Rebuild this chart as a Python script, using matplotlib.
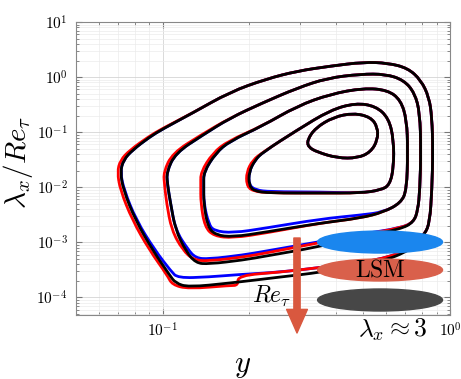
import numpy as np
import matplotlib
matplotlib.use('Agg')
import matplotlib.pyplot as plt
from matplotlib.path import Path
from matplotlib.patches import PathPatch, Ellipse
from matplotlib.ticker import FixedLocator, LogLocator, NullFormatter

plt.rcParams['mathtext.fontset'] = 'cm'
plt.rcParams['font.family'] = 'serif'
plt.rcParams['font.serif'] = ['DejaVu Serif']

# spectra iso-lines (y, lambda_x/Re_tau), one closed loop per level
# black: highest Re_tau, red / blue: lower Re_tau
C1_Y = [0.0713, 0.0731, 0.0786, 0.0901, 0.100, 0.127, 0.1715, 0.229, 0.294, 0.384, 0.500, 0.607, 0.713, 0.792, 0.845,
        0.865, 0.872, 0.865, 0.850, 0.818, 0.731, 0.574, 0.354, 0.257, 0.1715, 0.123, 0.111, 0.1058, 0.0923, 0.0805, 0.0731]
C1_L = [0.0189, 0.0312, 0.0473, 0.0815, 0.114, 0.222, 0.534, 0.920, 1.285, 1.583, 1.87, 1.80, 1.457, 0.882, 0.434,
        0.188, 0.0473, 0.0089, 0.00234, 0.00141, 0.000725, 0.000439, 0.000285, 0.000235, 0.000182, 0.000154, 0.000182,
        0.000255, 0.000725, 0.00254, 0.0089]
R1_Y = [0.0696, 0.0713, 0.077, 0.089, 0.099, 0.127, 0.1715, 0.229, 0.294, 0.384, 0.500, 0.607, 0.713, 0.792, 0.845,
        0.865, 0.872, 0.865, 0.850, 0.818, 0.731, 0.574, 0.354, 0.257, 0.183, 0.183, 0.1715, 0.123, 0.108, 0.104, 0.090,
        0.0785, 0.0713]
R1_L = [0.0189, 0.031, 0.0473, 0.0815, 0.114, 0.222, 0.534, 0.920, 1.285, 1.583, 1.87, 1.80, 1.457, 0.882, 0.434,
        0.188, 0.0473, 0.0089, 0.00234, 0.00141, 0.00078, 0.00048, 0.00035, 0.000288, 0.00025, 0.000165, 0.000165,
        0.000143, 0.00017, 0.00025, 0.000725, 0.00254, 0.0089]
B1_Y = [0.0713, 0.0731, 0.0786, 0.0901, 0.100, 0.127, 0.1715, 0.229, 0.294, 0.384, 0.500, 0.607, 0.713, 0.792, 0.845,
        0.865, 0.872, 0.865, 0.850, 0.818, 0.731, 0.574, 0.354, 0.257, 0.183, 0.1448, 0.113, 0.107, 0.094, 0.081, 0.0735]
B1_L = [0.0189, 0.0312, 0.0473, 0.0815, 0.114, 0.222, 0.534, 0.920, 1.285, 1.583, 1.87, 1.80, 1.457, 0.882, 0.434,
        0.188, 0.0473, 0.0089, 0.00234, 0.00141, 0.00078, 0.00048, 0.00035, 0.000288, 0.00026, 0.000235, 0.000225,
        0.0003, 0.000725, 0.00254, 0.0089]

C2_Y = [0.1033, 0.111, 0.138, 0.1715, 0.222, 0.294, 0.3745, 0.4885, 0.597, 0.6905, 0.754, 0.7855, 0.792, 0.7855,
        0.773, 0.748, 0.674, 0.4885, 0.3455, 0.229, 0.1904, 0.1448, 0.1304, 0.1204, 0.111, 0.1066, 0.1041]
C2_L = [0.0189, 0.0418, 0.0886, 0.18, 0.337, 0.632, 0.959, 1.133, 1.133, 0.882, 0.5125, 0.222, 0.0473, 0.0089,
        0.00386, 0.00234, 0.00174, 0.00125, 0.000822, 0.000564, 0.000477, 0.000404, 0.000421, 0.000705, 0.00167,
        0.00517, 0.011]
R2_Y = [0.1008, 0.1084, 0.1358, 0.1715, 0.222, 0.294, 0.3745, 0.4885, 0.597, 0.6905, 0.754, 0.7855, 0.792, 0.7855,
        0.773, 0.748, 0.674, 0.4885, 0.3455, 0.229, 0.1904, 0.1448, 0.1284, 0.1175, 0.1075, 0.1033, 0.1016]
R2_L = [0.0189, 0.0418, 0.0886, 0.18, 0.337, 0.632, 0.959, 1.133, 1.133, 0.882, 0.5125, 0.222, 0.0473, 0.0089,
        0.00386, 0.00234, 0.00182, 0.00136, 0.000971, 0.00064, 0.000541, 0.000458, 0.000477, 0.000725, 0.00167,
        0.00517, 0.011]
B2_Y = [0.1033, 0.111, 0.138, 0.1715, 0.222, 0.294, 0.3745, 0.4885, 0.597, 0.6905, 0.754, 0.7855, 0.792, 0.7855,
        0.773, 0.748, 0.674, 0.4885, 0.3455, 0.229, 0.1904, 0.1448, 0.1304, 0.1223, 0.111, 0.1066, 0.1041]
B2_L = [0.0189, 0.0418, 0.0886, 0.18, 0.337, 0.632, 0.959, 1.133, 1.133, 0.882, 0.5125, 0.222, 0.0473, 0.0089,
        0.00386, 0.00234, 0.00182, 0.00141, 0.00101, 0.000695, 0.000589, 0.000498, 0.000519, 0.000756, 0.00167,
        0.00517, 0.011]

C3_Y = [0.1391, 0.1532, 0.1715, 0.222, 0.294, 0.3836, 0.5004, 0.607, 0.674, 0.707, 0.7131, 0.707, 0.674, 0.5877,
        0.4885, 0.354, 0.229, 0.1757, 0.1532, 0.1436, 0.1391, 0.1391]
C3_L = [0.0189, 0.0418, 0.0689, 0.129, 0.2977, 0.491, 0.632, 0.581, 0.3825, 0.1658, 0.0473, 0.0089, 0.0052, 0.00355,
        0.00276, 0.00224, 0.00154, 0.00125, 0.00136, 0.0019, 0.00517, 0.011]
R3_Y = [0.1358, 0.1496, 0.1688, 0.222, 0.294, 0.3836, 0.5004, 0.607, 0.674, 0.707, 0.7131, 0.707, 0.674, 0.5877,
        0.4885, 0.354, 0.229, 0.1757, 0.151, 0.1403, 0.1358, 0.1358]
R3_L = [0.0189, 0.0418, 0.0689, 0.129, 0.2977, 0.491, 0.632, 0.581, 0.3825, 0.1658, 0.0473, 0.0089, 0.0052, 0.00355,
        0.00276, 0.00224, 0.00148, 0.0012, 0.0013, 0.0019, 0.00517, 0.011]
B3_Y = [0.1391, 0.1532, 0.1715, 0.222, 0.294, 0.3836, 0.5004, 0.607, 0.674, 0.707, 0.7131, 0.707, 0.674, 0.5877,
        0.4885, 0.354, 0.229, 0.1757, 0.151, 0.1448, 0.1391, 0.1391]
B3_L = [0.0189, 0.0418, 0.0689, 0.129, 0.2977, 0.491, 0.632, 0.581, 0.3825, 0.1658, 0.0473, 0.0089, 0.0052, 0.00355,
        0.00313, 0.00265, 0.00182, 0.00148, 0.00162, 0.00215, 0.00517, 0.011]

C4_Y = [0.1998, 0.1998, 0.2097, 0.2237, 0.294, 0.3836, 0.469, 0.551, 0.612, 0.637, 0.637, 0.617, 0.5738, 0.4885,
        0.354, 0.2367, 0.208]
C4_L = [0.011, 0.0189, 0.0312, 0.0435, 0.1092, 0.252, 0.3374, 0.2977, 0.1803, 0.0719, 0.0233, 0.011, 0.0089, 0.00785,
        0.00785, 0.00785, 0.00853]
R4_Y = [0.196, 0.196, 0.206, 0.2237, 0.294, 0.3836, 0.469, 0.551, 0.612, 0.637, 0.637, 0.617, 0.5738, 0.4885,
        0.354, 0.2367, 0.205]
R4_L = C4_L
B4_Y = [0.1998, 0.1998, 0.2097, 0.2237, 0.294, 0.3836, 0.469, 0.551, 0.612, 0.637, 0.637, 0.617, 0.5738, 0.4885,
        0.354, 0.2367, 0.211]
B4_L = [0.011, 0.0189, 0.0312, 0.0435, 0.1092, 0.252, 0.3374, 0.2977, 0.1803, 0.0719, 0.0233, 0.011, 0.0089, 0.00785,
        0.0082, 0.0083, 0.0089]

C5_Y = [0.3188, 0.340, 0.393, 0.4617, 0.5294, 0.5601, 0.5601, 0.5294, 0.4769, 0.4058, 0.3455, 0.3214]
C5_L = [0.0719, 0.1187, 0.1879, 0.2221, 0.1879, 0.1238, 0.0719, 0.0435, 0.0339, 0.0339, 0.0435, 0.0537]

RED_LINES = [(R1_Y, R1_L), (R2_Y, R2_L), (R3_Y, R3_L), (R4_Y, R4_L), (C5_Y, C5_L)]
BLUE_LINES = [(B1_Y, B1_L), (B2_Y, B2_L), (B3_Y, B3_L), (B4_Y, B4_L), (C5_Y, C5_L)]
BLACK_LINES = [(C1_Y, C1_L), (C2_Y, C2_L), (C3_Y, C3_L), (C4_Y, C4_L), (C5_Y, C5_L)]

XTICKS = [0.1, 1.0]
XTICKLABELS = [r'$10^{-1}$', r'$10^{0}$']
YTICKS = [1e-4, 1e-3, 1e-2, 1e-1, 1e0, 1e1]
YTICKLABELS = [r'$10^{-4}$', r'$10^{-3}$', r'$10^{-2}$', r'$10^{-1}$', r'$10^{0}$', r'$10^{1}$']

ARROW_C = '#d9583f'
BLOB_COLORS = ['#1a86ee', '#d9604b', '#474747']


def loop_path(xs, ys):
    # closed quadratic bezier through the midpoints; geometric means keep it smooth on log axes
    pts = np.column_stack([xs, ys]).astype(float)
    mids = np.sqrt(pts * np.roll(pts, -1, axis=0))
    verts = [mids[-1]]
    codes = [Path.MOVETO]
    for i in range(len(pts)):
        verts += [pts[i], mids[i]]
        codes += [Path.CURVE3, Path.CURVE3]
    return Path(verts, codes)


fig = plt.figure(figsize=(4.61, 3.79), dpi=100)
ax = fig.add_axes([76 / 461, 1 - 315 / 379, 374 / 461, 293 / 379])
ax.set_xscale('log')
ax.set_yscale('log')
ax.set_xlim(0.05, 1.0)
ax.set_ylim(4.8e-5, 10)

for lines, col, z in [(BLUE_LINES, '#0000ff', 2), (RED_LINES, '#ff0000', 3), (BLACK_LINES, 'k', 4)]:
    for xs, ys in lines:
        ax.add_patch(PathPatch(loop_path(xs, ys), fill=False, edgecolor=col, lw=2.0, zorder=z))

ax.xaxis.set_major_locator(FixedLocator(XTICKS))
ax.set_xticklabels(XTICKLABELS)
ax.yaxis.set_major_locator(FixedLocator(YTICKS))
ax.set_yticklabels(YTICKLABELS)
for a in (ax.xaxis, ax.yaxis):
    a.set_minor_locator(LogLocator(base=10, subs=np.arange(2, 10), numticks=20))
    a.set_minor_formatter(NullFormatter())

ax.grid(True, which='major', color='#d4d4d4', lw=0.6)
ax.grid(True, which='minor', color='#ebebeb', lw=0.5)
ax.set_axisbelow(True)
ax.tick_params(which='both', direction='in', top=True, right=True, color='#777777', labelsize=11)
ax.tick_params(which='major', length=4)
ax.tick_params(which='minor', length=2)
ax.tick_params(axis='x', pad=5)
ax.tick_params(axis='y', pad=6)
for s in ax.spines.values():
    s.set_color('#888888')
    s.set_linewidth(0.8)

# structure markers
for cy, col in zip([0.249, 0.1536, 0.0512], BLOB_COLORS):
    ax.add_patch(Ellipse((0.813, cy), 0.334, 0.075, transform=ax.transAxes, color=col, zorder=6, clip_on=False))
ax.text(0.813, 0.1536, r'$\mathrm{LSM}$', transform=ax.transAxes, ha='center', va='center', fontsize=17, zorder=7)

ax.annotate('', xy=(297 / 461, 1 - 333 / 379), xytext=(297 / 461, 1 - 238 / 379),
            xycoords='figure fraction', textcoords='figure fraction',
            arrowprops=dict(arrowstyle='simple,head_length=1.7,head_width=1.5,tail_width=0.45',
                            color=ARROW_C, shrinkA=0, shrinkB=0, mutation_scale=10), zorder=8)

fig.text(272 / 461, 1 - 296 / 379, r'$Re_\tau$', ha='center', va='center', fontsize=17)
fig.text(393 / 461, 1 - 330 / 379, r'$\lambda_x \approx 3$', ha='center', va='center', fontsize=18.5)
fig.text(243 / 461, 1 - 365 / 379, r'$y$', ha='center', va='center', fontsize=22)
fig.text(18 / 461, 1 - 162 / 379, r'$\lambda_x/Re_\tau$', ha='center', va='center', rotation=90, fontsize=21)

fig.savefig('out.png', dpi=100)
